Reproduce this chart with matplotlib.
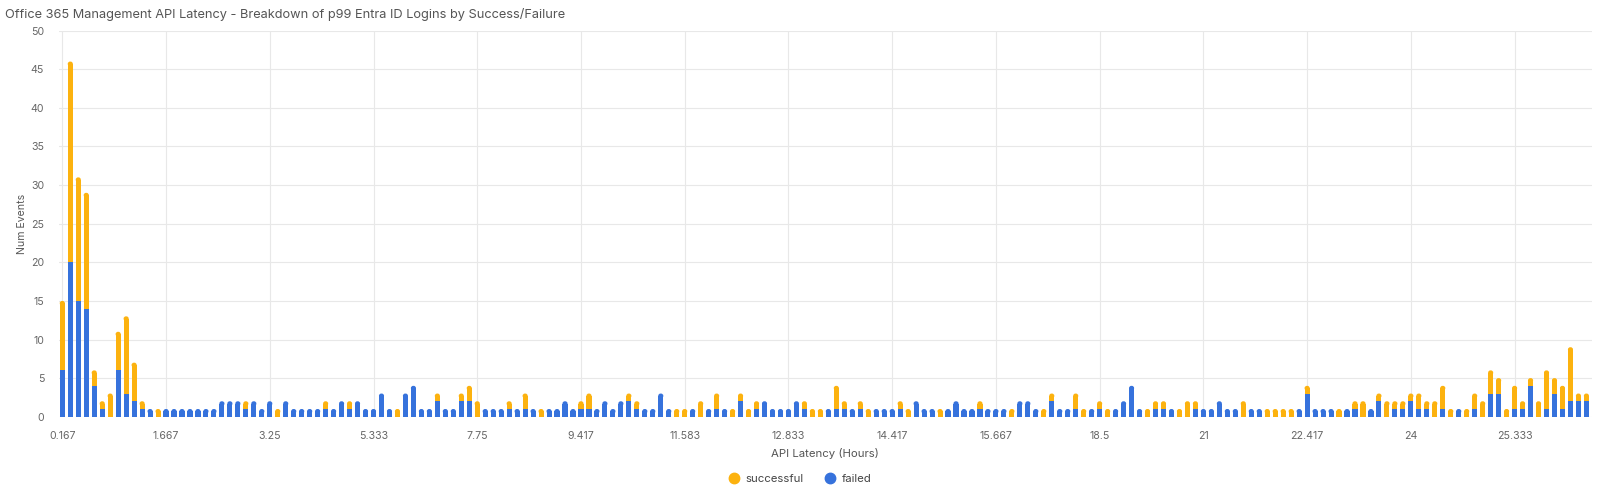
import numpy as np
import matplotlib.pyplot as plt
from matplotlib.patches import FancyBboxPatch
from matplotlib.lines import Line2D

plt.rcParams['font.family'] = ['Inter', 'DejaVu Sans']

# ~~~~~~~~ data ~~~~~~~~
failed = [6, 20, 15, 14, 4, 1, 0, 6, 3, 2, 1, 1, 0, 1, 1, 1, 1, 1, 1, 1,
          2, 2, 2, 1, 2, 1, 2, 0, 2, 1, 1, 1, 1, 1, 1, 2, 1, 2, 1, 1,
          3, 1, 0, 3, 4, 1, 1, 2, 1, 1, 2, 2, 0, 1, 1, 1, 1, 1, 1, 1,
          0, 1, 1, 2, 1, 1, 1, 1, 2, 1, 2, 2, 1, 1, 1, 3, 1, 0, 0, 1,
          0, 1, 1, 1, 0, 2, 0, 1, 2, 1, 1, 1, 2, 1, 0, 0, 1, 1, 1, 1,
          1, 0, 1, 1, 1, 1, 0, 2, 1, 1, 0, 1, 2, 1, 1, 1, 1, 1, 1, 0,
          2, 2, 1, 0, 2, 1, 1, 1, 0, 1, 1, 0, 1, 2, 4, 1, 0, 1, 1, 1,
          0, 0, 1, 1, 1, 2, 1, 1, 0, 1, 1, 0, 0, 0, 0, 1, 3, 1, 1, 1,
          0, 1, 1, 0, 1, 2, 0, 1, 1, 2, 1, 1, 0, 1, 0, 1, 0, 1, 0, 3,
          3, 0, 1, 1, 4, 0, 1, 3, 1, 2, 2, 2]
successful = [9, 26, 16, 15, 2, 1, 3, 5, 10, 5, 1, 0, 1, 0, 0, 0, 0, 0, 0, 0,
              0, 0, 0, 1, 0, 0, 0, 1, 0, 0, 0, 0, 0, 1, 0, 0, 1, 0, 0, 0,
              0, 0, 1, 0, 0, 0, 0, 1, 0, 0, 1, 2, 2, 0, 0, 0, 1, 0, 2, 0,
              1, 0, 0, 0, 0, 1, 2, 0, 0, 0, 0, 1, 1, 0, 0, 0, 0, 1, 1, 0,
              2, 0, 2, 0, 1, 1, 1, 1, 0, 0, 0, 0, 0, 1, 1, 1, 0, 3, 1, 0,
              1, 1, 0, 0, 0, 1, 1, 0, 0, 0, 1, 0, 0, 0, 0, 1, 0, 0, 0, 1,
              0, 0, 0, 1, 1, 0, 0, 2, 1, 0, 1, 1, 0, 0, 0, 0, 1, 1, 1, 0,
              1, 2, 1, 0, 0, 0, 0, 0, 2, 0, 0, 1, 1, 1, 1, 0, 1, 0, 0, 0,
              1, 0, 1, 2, 0, 1, 2, 1, 1, 1, 2, 1, 2, 3, 1, 0, 1, 2, 2, 3,
              2, 1, 3, 1, 1, 2, 5, 2, 3, 7, 1, 1]
tick_labels = ['0.167', '1.667', '3.25', '5.333', '7.75', '9.417', '11.583',
               '12.833', '14.417', '15.667', '18.5', '21', '22.417', '24',
               '25.333']
tick_step = 13
# ~~~~~~~~~~~~~~~~~~~~~~~~~~~~~~~~~~~~~~~~~~~~

c_ok = '#fcb20f'
c_fail = '#3672dc'
grid_c = '#e8e8e8'
txt_c = '#666666'

failed = np.array(failed)
successful = np.array(successful)
x = np.arange(len(failed))

fig = plt.figure(figsize=(16, 4.91), dpi=100)
ax = fig.add_axes([0.0367, 0.1513, 0.9583, 0.7862])

w = 0.64
b_fail = ax.bar(x, failed, w, color=c_fail, zorder=3)
b_ok = ax.bar(x, successful, w, bottom=failed, color=c_ok, zorder=3)

# round off the top of each stack
r = 0.3
for i in x:
    p = b_ok[i] if successful[i] > 0 else b_fail[i]
    h = p.get_height()
    if h <= 0:
        continue
    px, py = p.get_xy()
    p.set_height(h - r)
    cap = FancyBboxPatch((px, py + h - 2 * r), p.get_width(), 2 * r,
                         boxstyle='round,pad=0,rounding_size=%f' % r,
                         fc=p.get_facecolor(), ec='none', lw=0, zorder=3)
    ax.add_patch(cap)

ax.set_xlim(-0.45, len(x) - 0.3)
ax.set_ylim(0, 50)
ax.set_yticks(np.arange(0, 51, 5))
ax.set_xticks(x[::tick_step])
ax.set_xticklabels(tick_labels)
ax.grid(True, color=grid_c, lw=0.8, zorder=0)
for s in ax.spines.values():
    s.set_visible(False)
ax.tick_params(length=0, labelsize=7.6, labelcolor=txt_c)
ax.tick_params(axis='x', pad=10.2)
ax.tick_params(axis='y', pad=10.5)

ax.set_xlabel('API Latency (Hours)', fontsize=8.2, color='#555555')
ax.xaxis.set_label_coords(0.5, -0.080)
ax.set_ylabel('Num Events', fontsize=7.6, color='#555555')
ax.yaxis.set_label_coords(-0.021, 0.5)

fig.text(0.003, 0.971, 'Office 365 Management API Latency - Breakdown of p99 '
         'Entra ID Logins by Success/Failure', fontsize=9.2, color='#555555',
         va='center', ha='left')

handles = [Line2D([], [], marker='o', ls='', ms=7.5, color=c_ok),
           Line2D([], [], marker='o', ls='', ms=7.5, color=c_fail)]
fig.legend(handles, ['successful', 'failed'], loc='center',
           bbox_to_anchor=(0.5, 0.025), ncol=2, frameon=False, fontsize=8.2,
           handlelength=1.0, handletextpad=0.47, columnspacing=1.85,
           labelcolor='#444444')

fig.savefig('out.png', dpi=100)
